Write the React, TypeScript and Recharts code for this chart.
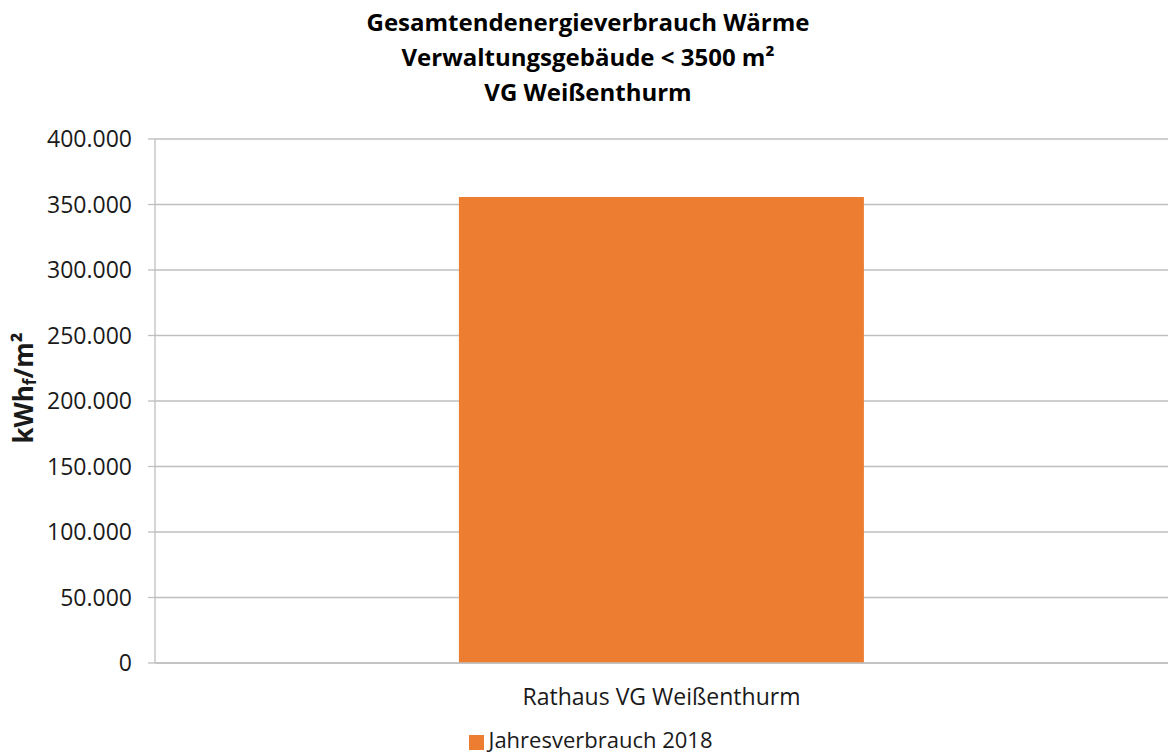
import React from 'react';
import { BarChart, Bar, XAxis, YAxis, CartesianGrid, Legend } from 'recharts';

const categories = ['Rathaus VG Weißenthurm'];
const seriesName = 'Jahresverbrauch 2018';
const seriesValues = [355800];
const yTicks = [0, 50000, 100000, 150000, 200000, 250000, 300000, 350000, 400000];
const titleLines = ['Gesamtendenergieverbrauch Wärme', 'Verwaltungsgebäude < 3500 m²', 'VG Weißenthurm'];

const data = categories.map((c, i) => ({ name: c, value: seriesValues[i] }));

const FONT = '"Open Sans", "Noto Sans", sans-serif';
const GRID = '#BFBFBF';
const TEXT = '#1a1a1a';

const fmt = (v: number) => {
  const s = Math.round(v).toString();
  return s.replace(/\B(?=(\d{3})+(?!\d))/g, '.');
};

const YLabel = (props: any) => {
  const vb = props.viewBox || {};
  const cy = vb.y + vb.height / 2 - 13;
  const cx = 23;
  return (
    <text
      x={cx}
      y={cy}
      transform={`rotate(-90, ${cx}, ${cy})`}
      textAnchor="middle"
      dominantBaseline="central"
      fontFamily={FONT}
      fontWeight={700}
      fontSize={26}
      fill={TEXT}
    >
      <tspan>kWh</tspan>
      <tspan fontSize={17} dy={6}>f</tspan>
      <tspan dy={-6}>/m²</tspan>
    </text>
  );
};

export default function App() {
  return (
    <div style={{ position: 'absolute', left: 0, top: 0, width: 1170, height: 755, background: '#fff' }}>
      <div
        style={{
          position: 'absolute',
          left: 0,
          top: 4,
          width: 1176,
          textAlign: 'center',
          fontFamily: FONT,
          fontWeight: 700,
          fontSize: 24,
          lineHeight: '35px',
          color: '#000',
        }}
      >
        {titleLines.map((l) => (
          <div key={l}>{l}</div>
        ))}
      </div>
      <BarChart
        width={1170}
        height={755}
        data={data}
        margin={{ top: 139, right: 2, bottom: 0, left: 0 }}
        barCategoryGap="30%"
      >
        <CartesianGrid vertical={false} stroke={GRID} strokeWidth={1.3} />
        <XAxis
          dataKey="name"
          height={62}
          tickLine={false}
          axisLine={{ stroke: GRID, strokeWidth: 1.3 }}
          tick={{ fontFamily: FONT, fontSize: 23, fill: TEXT }}
          tickMargin={20}
        />
        <YAxis
          width={155}
          domain={[0, 400000]}
          ticks={yTicks}
          tickFormatter={fmt}
          interval={0}
          axisLine={{ stroke: GRID, strokeWidth: 1.3 }}
          tickLine={{ stroke: GRID, strokeWidth: 1.3 }}
          tickSize={7}
          tickMargin={16}
          tick={{ fontFamily: FONT, fontSize: 23, fill: TEXT }}
          label={<YLabel />}
        />
        <Legend
          verticalAlign="bottom"
          height={30}
          iconType="square"
          iconSize={15}
          wrapperStyle={{ fontFamily: FONT, fontSize: 22, lineHeight: '28px', left: 12, bottom: 0 }}
          formatter={(v: string) => <span style={{ color: TEXT }}>{v}</span>}
        />
        <Bar dataKey="value" name={seriesName} fill="#ED7D31" isAnimationActive={false} />
      </BarChart>
    </div>
  );
}
